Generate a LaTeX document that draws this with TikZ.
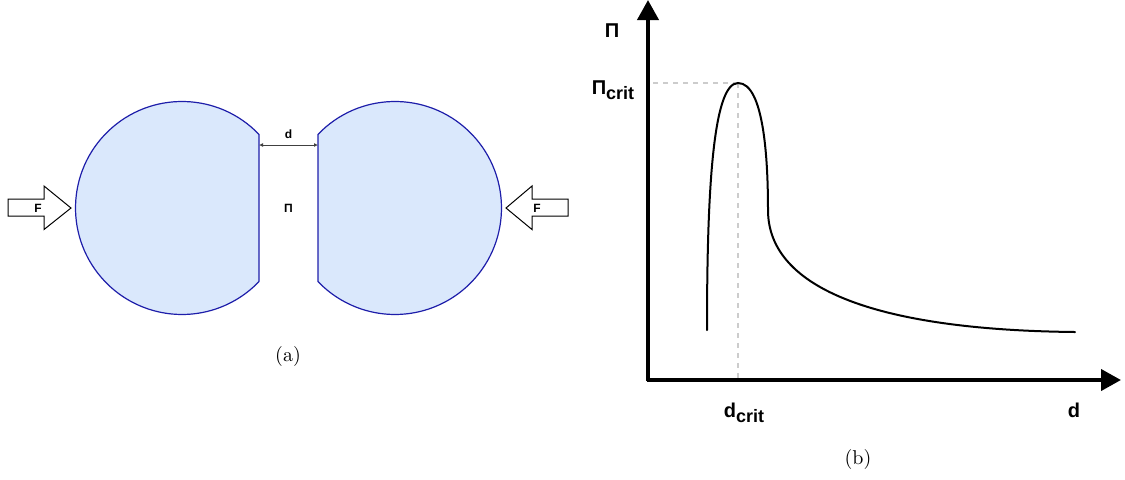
\documentclass[tikz,border=0pt]{standalone}
\usepackage{fontspec}
\newfontfamily\plotfont{Liberation Sans}
\usetikzlibrary{arrows.meta}
\definecolor{dropfill}{RGB}{218,232,252}
\definecolor{dropedge}{RGB}{30,30,170}
\definecolor{critgrey}{RGB}{204,204,204}
\newcommand{\critsub}{\raisebox{-2.6pt}{\fontsize{9}{10}\selectfont crit}}
\tikzset{
  drop/.style={draw=dropedge, fill=dropfill, line width=0.6pt, line join=round},
  push/.style={draw=black, fill=white, line width=0.5pt, line join=miter},
  lbl/.style={font=\plotfont\fontsize{6}{7}\selectfont\bfseries, inner sep=0pt},
  axlbl/.style={font=\plotfont\fontsize{10}{12}\selectfont\bfseries, inner sep=0pt, anchor=base},
  subcap/.style={font=\fontsize{10}{12}\selectfont, inner sep=0pt},
  axisline/.style={line width=2pt, -{Triangle[length=10pt,width=10.5pt]}},
  critline/.style={draw=critgrey, line width=0.9pt, dash pattern=on 2.5pt off 2.5pt},
  gap/.style={draw=black!75, line width=0.4pt, {Latex[length=2pt,width=2pt]}-{Latex[length=2pt,width=2pt]}},
  curve/.style={line width=1pt, line cap=round}
}

\begin{document}
\begin{tikzpicture}[x=0.5pt, y=-0.5pt]
  \useasboundingbox (0,0) rectangle (1125,479);

  % (a) two drops with the gap between them
  \draw[drop] (259,281.6) -- (259,134.4)
    arc[start angle=-43.7, end angle=-316.3, radius=106.5] -- cycle;
  \draw[drop] (318,134.4)
    arc[start angle=-136.3, end angle=136.3, radius=106.5] -- cycle;

  \coordinate (gapL) at (259,145);
  \coordinate (gapR) at (318,145);
  \draw[gap] (gapL) -- (gapR);
  \node[lbl] (gapd) at (288.5,134) {d};
  \node[lbl] (gappi) at (288.5,208) {Π};

  % pushing forces
  \draw[push] (8,199) -- (44,199) -- (44,186) -- (71,208) -- (44,229.5)
    -- (44,216) -- (8,216) -- cycle;
  \node[lbl] (fleft) at (38,208) {F};
  \draw[push] (568,199) -- (532,199) -- (532,186) -- (506,208) -- (532,229.5)
    -- (532,216) -- (568,216) -- cycle;
  \node[lbl] (fright) at (537,208) {F};

  \node[subcap] (capa) at (288,356) {(a)};

  % (b) pressure against distance
  \coordinate (origin) at (648,380);
  \coordinate (ytip) at (648,0);
  \coordinate (xtip) at (1121,380);
  \coordinate (peak) at (738,83);

  \draw[critline] (peak) -- (peak -| origin);
  \draw[critline] (peak) -- (peak |- origin);

  \draw[axisline] (648,381) -- (ytip);
  \draw[axisline] (647,380) -- (xtip);

  \draw[curve] (707,330) .. controls (707,200) and (712,83) .. (peak)
    .. controls (764,83) and (768,160) .. (768,210)
    .. controls (768,290) and (880,330) .. (1075,332);

  \node[axlbl] (pilbl) at (612,37) {Π};
  \node[axlbl] (picrit) at (613,94) {Π\critsub};
  \node[axlbl] (dcrit) at (744,417) {d\critsub};
  \node[axlbl] (dlbl) at (1074,417) {d};

  \node[subcap] (capb) at (858,459) {(b)};
\end{tikzpicture}
\end{document}
